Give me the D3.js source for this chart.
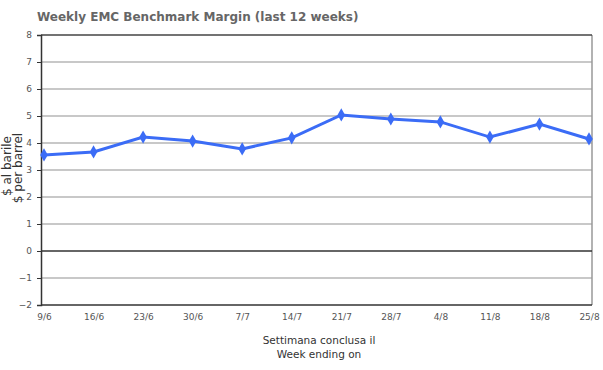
<!DOCTYPE html>
<html>
<head>
<meta charset="utf-8">
<script src="https://cdn.jsdelivr.net/npm/d3@7"></script>
<style>
  body { margin: 0; background: #fff; }
  text { font-family: "DejaVu Sans", Verdana, sans-serif; }
</style>
</head>
<body>
<svg id="chart" width="603" height="370"></svg>
<script>
// weeks and margin values
var weeks = ["9/6", "16/6", "23/6", "30/6", "7/7", "14/7", "21/7", "28/7", "4/8", "11/8", "18/8", "25/8"];
var margins = [3.56, 3.67, 4.22, 4.07, 3.78, 4.19, 5.04, 4.89, 4.78, 4.22, 4.70, 4.15];
var yTicks = [-2, -1, 0, 1, 2, 3, 4, 5, 6, 7, 8];

var svg = d3.select("#chart");
// note: "top" is taken by window.top, so use plot* names
var plotLeft = 41, plotRight = 592, plotTop = 35, plotBottom = 305;

var x = d3.scalePoint().domain(weeks).range([44, 589]);
var y = d3.scaleLinear().domain([-2, 8]).range([plotBottom, plotTop]);

// title
svg.append("text")
  .attr("x", 37).attr("y", 21)
  .attr("font-size", 12).attr("font-weight", "bold")
  .attr("fill", "#666")
  .text("Weekly EMC Benchmark Margin (last 12 weeks)");

// gridlines
svg.selectAll("line.grid")
  .data(yTicks.filter(function(d) { return d != 0 && d != 8 && d != -2; }))
  .enter().append("line")
  .attr("class", "grid")
  .attr("x1", plotLeft).attr("x2", plotRight)
  .attr("y1", function(d) { return y(d); })
  .attr("y2", function(d) { return y(d); })
  .attr("stroke", "#c8c8c8").attr("stroke-width", 2);

// frame
svg.append("line").attr("x1", plotRight).attr("x2", plotRight).attr("y1", plotTop).attr("y2", plotBottom)
  .attr("stroke", "#999").attr("stroke-width", 1.5);
svg.append("line").attr("x1", plotLeft).attr("x2", plotRight).attr("y1", plotTop).attr("y2", plotTop)
  .attr("stroke", "#444").attr("stroke-width", 1.5);
svg.append("line").attr("x1", plotLeft).attr("x2", plotRight).attr("y1", y(0)).attr("y2", y(0))
  .attr("stroke", "#333").attr("stroke-width", 1.5);

// y axis
var yAxis = svg.append("g")
  .attr("transform", "translate(" + plotLeft + ",0)")
  .call(d3.axisLeft(y).tickValues(yTicks).tickSize(4).tickPadding(5));
yAxis.select(".domain").attr("stroke", "#333").attr("stroke-width", 1.5);
yAxis.selectAll(".tick line").attr("stroke", "#333");
yAxis.selectAll("text").attr("font-size", 9).attr("fill", "#555")
  .attr("font-family", "'Liberation Sans', Arial, sans-serif");

// x axis
var xAxis = svg.append("g")
  .attr("transform", "translate(0," + plotBottom + ")")
  .call(d3.axisBottom(x).tickSize(0).tickPadding(9));
xAxis.select(".domain").attr("d", "M" + plotLeft + ",0H" + plotRight)
  .attr("stroke", "#333").attr("stroke-width", 1.5);
xAxis.selectAll("text").attr("font-size", 9).attr("fill", "#555")
  .attr("font-family", "'Liberation Sans', Arial, sans-serif");

// axis titles
svg.append("text")
  .attr("x", 319).attr("y", 344)
  .attr("text-anchor", "middle").attr("font-size", 10.5).attr("fill", "#333")
  .text("Settimana conclusa il");
svg.append("text")
  .attr("x", 319).attr("y", 358)
  .attr("text-anchor", "middle").attr("font-size", 10.5).attr("fill", "#333")
  .text("Week ending on");

svg.append("text")
  .attr("transform", "translate(11,166) rotate(-90)")
  .attr("text-anchor", "middle").attr("font-size", 12).attr("fill", "#333")
  .text("$ al barile");
svg.append("text")
  .attr("transform", "translate(22,168) rotate(-90)")
  .attr("text-anchor", "middle").attr("font-size", 12).attr("fill", "#333")
  .text("$ per barrel");

// series
var line = d3.line()
  .x(function(d, i) { return x(weeks[i]); })
  .y(function(d) { return y(d); });

svg.append("path")
  .datum(margins)
  .attr("d", line)
  .attr("fill", "none")
  .attr("stroke", "#3b6cf6").attr("stroke-width", 3);

svg.selectAll("path.marker")
  .data(margins)
  .enter().append("path")
  .attr("class", "marker")
  .attr("d", d3.symbol().type(d3.symbolDiamond).size(50))
  .attr("transform", function(d, i) { return "translate(" + x(weeks[i]) + "," + y(d) + ")"; })
  .attr("fill", "#3b6cf6");
</script>
</body>
</html>
